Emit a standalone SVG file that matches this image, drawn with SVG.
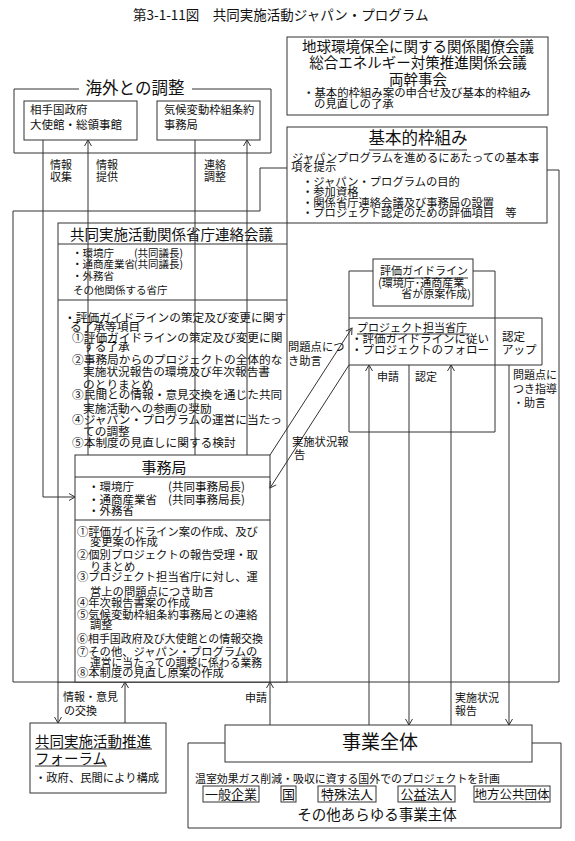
<svg xmlns="http://www.w3.org/2000/svg" width="575" height="841" viewBox="0 0 575 841">
<defs>
<style>
text{font-family:"Noto Sans CJK JP","Noto Sans CJK SC",sans-serif;fill:#111;}
.box{fill:#fff;stroke:#333;stroke-width:1;}
.ln{fill:none;stroke:#333;stroke-width:1;}
.s11{font-size:11px;}
.s115{font-size:11.5px;}
.s14{font-size:14.5px;}
.s16{font-size:16.5px;}
.mid{text-anchor:middle;}
.end{text-anchor:end;}
</style>
<marker id="ar" viewBox="-7 -5 8 10" refX="0" refY="0" markerWidth="8" markerHeight="10" markerUnits="userSpaceOnUse" orient="auto">
<path d="M-6,-3.5 L0,0 L-6,3.5" fill="none" stroke="#333" stroke-width="1"/>
</marker>
</defs>
<rect width="575" height="841" fill="#fff"/>

<text x="133" y="20" style="font-size:13.5px">第3-1-11図　共同実施活動ジャパン・プログラム</text>

<g id="frame">
<path class="ln" d="M287,168 H260 V211 H13 V682 H559 V170 H547"/>
</g>

<g id="ryokan">
<rect class="box" x="287" y="37" width="261" height="78"/>
<text class="s14 mid" x="418" y="52">地球環境保全に関する関係閣僚会議</text>
<text class="s14 mid" x="418" y="68">総合エネルギー対策推進関係会議</text>
<text class="s14 mid" x="418" y="85">両幹事会</text>
<text class="s11" x="303" y="97" style="font-size:11.4px">・基本的枠組み案の申合せ及び基本的枠組み</text>
<text class="s11" x="314" y="108" style="font-size:11.4px">の見直しの了承</text>
</g>

<g id="kihon">
<rect class="box" x="287" y="127" width="260" height="96"/>
<text class="s16 mid" x="418" y="144">基本的枠組み</text>
<line class="ln" x1="369" y1="150" x2="467" y2="150"/>
<text x="292" y="162" style="font-size:11.3px">ジャパンプログラムを進めるにあたっての基本事</text>
<text x="291" y="171" style="font-size:11.3px">項を提示</text>
<text x="302" y="186" style="font-size:11.3px">・ジャパン・プログラムの目的</text>
<text x="302" y="196" style="font-size:11.3px">・参加資格</text>
<text x="302" y="207" style="font-size:11.3px">・関係省庁連絡会議及び事務局の設置</text>
<text x="302" y="217" style="font-size:11.3px">・プロジェクト認定のための評価項目　等</text>
</g>

<g id="kaigai">
<path class="ln" d="M79,89 H14 V153 H271 V89 H192"/>
<text class="s16 mid" x="135" y="94">海外との調整</text>
</g>
<g id="aite">
<rect class="box" x="24" y="101" width="113" height="39"/>
<text class="s115" x="30" y="114">相手国政府</text>
<text class="s115" x="30" y="129">大使館・総領事館</text>
</g>
<g id="kiko">
<rect class="box" x="157" y="101" width="103" height="39"/>
<text x="164" y="114" style="font-size:11.3px">気候変動枠組条約</text>
<text x="164" y="129" style="font-size:11.3px">事務局</text>
</g>

<g id="renraku">
<rect class="box" x="58" y="223" width="229" height="459"/>
<line class="ln" x1="58" y1="244" x2="287" y2="244"/>
<line class="ln" x1="58" y1="300" x2="287" y2="300"/>
<text class="s14" x="70" y="240">共同実施活動関係省庁連絡会議</text>
<text x="72" y="257" style="font-size:10.5px">・環境庁</text>
<text x="134" y="257" style="font-size:10.5px">(共同議長)</text>
<text x="72" y="268" style="font-size:10.5px">・通商産業省</text>
<text x="134" y="268" style="font-size:10.5px">(共同議長)</text>
<text x="72" y="280" style="font-size:10.5px">・外務省</text>
<text x="73" y="294" style="font-size:10.5px">その他関係する省庁</text>
<g style="font-size:11.7px">
<text x="64" y="322">・評価ガイドラインの策定及び変更に関す</text>
<text x="70" y="331">る了承等項目</text>
<text x="72" y="342">①評価ガイドラインの策定及び変更に関</text>
<text x="83" y="351">する了承</text>
<text x="72" y="364">②事務局からのプロジェクトの全体的な</text>
<text x="83" y="376">実施状況報告の環境及び年次報告書</text>
<text x="83" y="389">のとりまとめ</text>
<text x="72" y="399">③民間との情報・意見交換を通じた共同</text>
<text x="83" y="413">実施活動への参画の奨励</text>
<text x="72" y="424">④ジャパン・プログラムの運営に当たっ</text>
<text x="83" y="436">ての調整</text>
<text x="72" y="447">⑤本制度の見直しに関する検討</text>
</g>
</g>

<g id="jimukyoku">
<rect class="box" x="75" y="455" width="195" height="227"/>
<line class="ln" x1="75" y1="477" x2="270" y2="477"/>
<line class="ln" x1="75" y1="520" x2="270" y2="520"/>
<text class="mid" x="164" y="473" style="font-size:15px">事務局</text>
<text class="s115" x="88" y="491">・環境庁</text>
<text class="s115" x="168" y="491">(共同事務局長)</text>
<text class="s115" x="88" y="504">・通商産業省</text>
<text class="s115" x="168" y="504">(共同事務局長)</text>
<text class="s115" x="88" y="515">・外務省</text>
<g style="font-size:11.3px">
<text x="77" y="536">①評価ガイドライン案の作成、及び</text>
<text x="90" y="546">変更案の作成</text>
<text x="77" y="559">②個別プロジェクトの報告受理・取</text>
<text x="90" y="571">りまとめ</text>
<text x="77" y="581">③プロジェクト担当省庁に対し、運</text>
<text x="90" y="596">営上の問題点につき助言</text>
<text x="77" y="607">④年次報告書案の作成</text>
<text x="77" y="619">⑤気候変動枠組条約事務局との連絡</text>
<text x="90" y="629">調整</text>
<text x="77" y="643" textLength="186" lengthAdjust="spacingAndGlyphs">⑥相手国政府及び大使館との情報交換</text>
<text x="77" y="656">⑦その他、ジャパン・プログラムの</text>
<text x="90" y="667" textLength="172" lengthAdjust="spacingAndGlyphs">運営に当たっての調整に係わる業務</text>
<text x="77" y="677">⑧本制度の見直し原案の作成</text>
</g>
</g>

<g id="hyoka-frame">
<path class="ln" d="M373,271 H349 V432 H495 V271 H473"/>
</g>
<g id="hyoka">
<rect class="box" x="373" y="259" width="100" height="47"/>
<text class="s11" x="380" y="275">評価ガイドライン</text>
<line class="ln" x1="380" y1="278" x2="468" y2="278"/>
<text class="s11" x="378" y="287">(環境庁･通商産業</text>
<text class="s11 end" x="471" y="298">省が原案作成)</text>
</g>
<g id="tanto">
<path class="ln" d="M349,318 H542 V365 H349"/>
<text class="s11" x="357" y="332">プロジェクト担当省庁</text>
<line class="ln" x1="357" y1="334" x2="468" y2="334"/>
<text class="s115" x="351" y="343">・評価ガイドラインに従い</text>
<text class="s115" x="351" y="354">・プロジェクトのフォロー</text>
<text class="s115" x="502" y="341">認定</text>
<text class="s115" x="502" y="354">アップ</text>
</g>

<g id="forum">
<rect class="box" x="30" y="723" width="136" height="70"/>
<text class="s14" x="35" y="747">共同実施活動推進</text>
<line class="ln" x1="35" y1="749" x2="152" y2="749"/>
<text class="s14" x="35" y="764">フォーラム</text>
<line class="ln" x1="35" y1="766" x2="107" y2="766"/>
<text x="35" y="782" style="font-size:11.3px">・政府、民間により構成</text>
</g>

<g id="jigyo">
<path class="ln" d="M225,743 H188 V828 H561 V743 H532"/>
<rect class="box" x="225" y="725" width="307" height="37"/>
<text class="mid" x="380" y="749" style="font-size:19px">事業全体</text>
<text x="195" y="783" style="font-size:10.9px">温室効果ガス削減・吸収に資する国外でのプロジェクトを計画</text>
<rect class="box" x="203" y="786" width="56" height="16"/>
<text class="mid" x="231" y="799" style="font-size:13px">一般企業</text>
<rect class="box" x="281" y="786" width="15" height="16"/>
<text class="mid" x="288.5" y="799" style="font-size:13px">国</text>
<rect class="box" x="318" y="786" width="58" height="16"/>
<text class="mid" x="347" y="799" style="font-size:13px">特殊法人</text>
<rect class="box" x="398" y="786" width="57" height="16"/>
<text class="mid" x="426.5" y="799" style="font-size:13px">公益法人</text>
<rect class="box" x="474" y="786" width="76" height="16"/>
<text class="mid" x="512" y="799" style="font-size:12.5px">地方公共団体</text>
<text class="mid" x="377" y="820" style="font-size:14.5px">その他あらゆる事業主体</text>
</g>

<g id="connectors">
<path class="ln" d="M43,140 V497 H75" marker-end="url(#ar)"/>
<path class="ln" d="M88,455 V140" marker-end="url(#ar)"/>
<path class="ln" d="M195,140 V455"/>
<path class="ln" d="M247,455 V140" marker-end="url(#ar)"/>
<path class="ln" d="M58,682 V723" marker-end="url(#ar)"/>
<path class="ln" d="M125,723 V682" marker-end="url(#ar)"/>
<path class="ln" d="M270,725 V682" marker-end="url(#ar)"/>
<path class="ln" d="M369,725 V365" marker-end="url(#ar)"/>
<path class="ln" d="M409,365 V725" marker-end="url(#ar)"/>
<path class="ln" d="M451,725 V365" marker-end="url(#ar)"/>
<path class="ln" d="M509,365 V725" marker-end="url(#ar)"/>
<path class="ln" d="M270,455 L352,328" marker-end="url(#ar)"/>
<path class="ln" d="M349,365 L270,488" marker-end="url(#ar)"/>
</g>

<g id="labels" style="font-size:11px">
<text x="50" y="169">情報</text>
<text x="50" y="181">収集</text>
<text x="96" y="169">情報</text>
<text x="96" y="181">提供</text>
<text x="204" y="169">連絡</text>
<text x="204" y="181">調整</text>
<text x="288" y="351" style="font-size:11.3px">問題点につ</text>
<text x="288" y="365" style="font-size:11.3px">き助言</text>
<text x="292" y="446" style="font-size:11.3px">実施状況報</text>
<text x="294" y="459" style="font-size:11.3px">告</text>
<text x="377" y="381">申請</text>
<text x="415" y="381">認定</text>
<text x="513" y="379">問題点に</text>
<text x="513" y="393">つき指導</text>
<text x="513" y="407">・助言</text>
<text x="63" y="701">情報・意見</text>
<text x="64" y="715">の交換</text>
<text x="245" y="702">申請</text>
<text x="455" y="702">実施状況</text>
<text x="455" y="715">報告</text>
</g>
</svg>
